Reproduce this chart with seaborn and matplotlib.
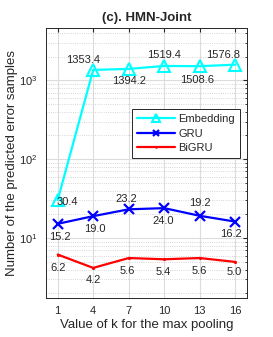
import pandas as pd
import seaborn as sns
from matplotlib import pyplot as plt
from matplotlib.ticker import LogLocator, NullFormatter

k_values = [1, 4, 7, 10, 13, 16]
embedding = [30.4, 1353.4, 1394.2, 1519.4, 1508.6, 1576.8]
gru = [15.2, 19.0, 23.2, 24.0, 19.2, 16.2]
bigru = [6.2, 4.2, 5.6, 5.4, 5.6, 5.0]

sns.set_style("white")
plt.rcParams['font.family'] = ['Liberation Sans', 'DejaVu Sans']

df = pd.DataFrame({'k': k_values, 'Embedding': embedding, 'GRU': gru, 'BiGRU': bigru})

fig = plt.figure(figsize=(2.73, 3.37), dpi=100)
ax = fig.add_axes([0.168, 0.116, 0.737, 0.801])

sns.lineplot(data=df, x='k', y='Embedding', ax=ax, color='cyan', marker='^', markersize=8,
             markerfacecolor='none', markeredgecolor='cyan', markeredgewidth=1.5, lw=1.6, label='Embedding')
sns.lineplot(data=df, x='k', y='GRU', ax=ax, color='blue', marker='x', markersize=7,
             markeredgecolor='blue', markeredgewidth=1.6, lw=1.6, label='GRU')
sns.lineplot(data=df, x='k', y='BiGRU', ax=ax, color='red', marker='.', markersize=3,
             markeredgecolor='red', lw=1.6, label='BiGRU')

ax.set_yscale('log')
ax.set_xlim(0, 17)
ax.set_ylim(1.75, 4600)
ax.set_xticks(k_values)
ax.yaxis.set_major_locator(LogLocator(base=10, numticks=10))
ax.yaxis.set_minor_locator(LogLocator(base=10, subs=range(2, 10), numticks=20))
ax.yaxis.set_minor_formatter(NullFormatter())
ax.grid(True, which='major', color='#dcdcdc', lw=0.8)
ax.grid(True, which='minor', axis='y', color='#c8c8c8', lw=0.6, ls=':')
ax.tick_params(axis='both', which='both', direction='in', top=True, right=True, labelsize=8, pad=6)
ax.tick_params(which='major', length=3)
ax.tick_params(which='minor', length=1.5)
for s in ax.spines.values():
    s.set_color('#262626')
    s.set_linewidth(0.7)

# label offsets in pixels
emb_off = [(10, -2), (-10, 10), (0, -12), (0, 11), (-3, -14), (-12, 10)]
gru_off = [(2, -13), (2, -13), (-2, 10), (-1, -13), (0, 13), (-4, -12)]
bi_off = [(0, -13), (0, -12), (-1, -13), (-1, -13), (0, -13), (-1, -10)]
for series, offs in [(embedding, emb_off), (gru, gru_off), (bigru, bi_off)]:
    for x, y, o in zip(k_values, series, offs):
        ax.annotate(f"{y:.1f}", (x, y), xytext=o, textcoords='offset pixels',
                    ha='center', va='center', fontsize=8, color='#262626')

ax.legend(loc='upper right', bbox_to_anchor=(0.965, 0.70), fontsize=8, handlelength=3.4,
          frameon=True, fancybox=False, edgecolor='#262626', framealpha=1, markerscale=0.7,
          borderpad=0.45, labelspacing=0.42, handletextpad=0.3, borderaxespad=0)
ax.get_legend().get_frame().set_linewidth(0.7)

ax.set_title("(c). HMN-Joint", fontsize=9.5, fontweight='bold', pad=5)
ax.set_xlabel("Value of k for the max pooling", fontsize=9.5, labelpad=2)
ax.set_ylabel("Number of the predicted error samples", fontsize=9.5, labelpad=1)

fig.savefig("out.png", dpi=100)
